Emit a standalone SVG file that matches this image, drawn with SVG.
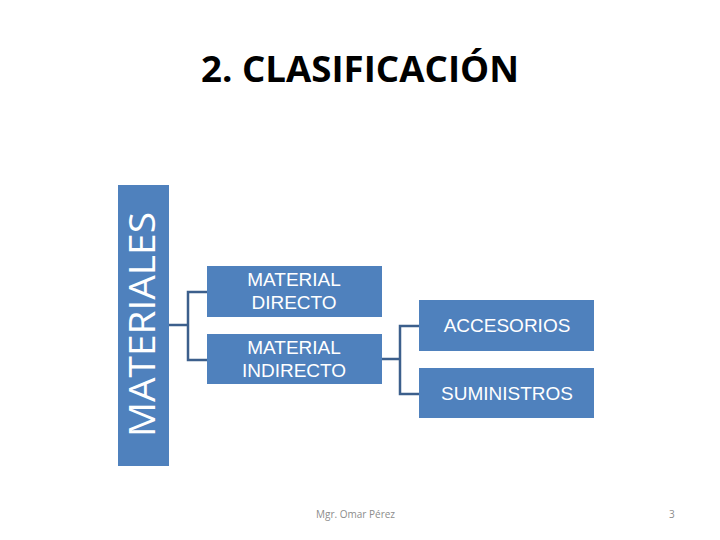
<svg xmlns="http://www.w3.org/2000/svg" width="720" height="540" viewBox="0 0 720 540">
<style>
.box{fill:#4F81BD;}
.t{font-family:"Liberation Sans",Arial,sans-serif;fill:#fff;font-size:19px;text-anchor:middle;}
.v{font-family:"Open Sans","Liberation Sans",sans-serif;fill:#fff;font-size:36px;text-anchor:middle;}
.c{fill:none;stroke:#3C5F8C;stroke-width:2.5;}
.f{font-family:"Open Sans","Liberation Sans",sans-serif;fill:#8c8c8c;font-size:10px;}
</style>
<rect width="720" height="540" fill="#fff"/>
<text x="360" y="82" font-family="'Open Sans','Liberation Sans',sans-serif" font-weight="bold" font-size="35" text-anchor="middle" textLength="318" lengthAdjust="spacingAndGlyphs">2. CLASIFICACIÓN</text>
<g id="connectors">
<path class="c" d="M169 325H188M207 292H188V360H207"/>
<path class="c" d="M382 359H400M419 326H400V394H419"/>
</g>
<g id="materiales">
<rect class="box" x="118" y="185" width="51" height="281"/>
<text class="v" transform="translate(155,324.5) rotate(-90)" textLength="225" lengthAdjust="spacingAndGlyphs">MATERIALES</text>
</g>
<g id="directo">
<rect class="box" x="207" y="266" width="175" height="51"/>
<text class="t" x="294" y="286">MATERIAL</text>
<text class="t" x="294" y="309">DIRECTO</text>
</g>
<g id="indirecto">
<rect class="box" x="207" y="334" width="175" height="50"/>
<text class="t" x="294" y="354">MATERIAL</text>
<text class="t" x="294" y="377">INDIRECTO</text>
</g>
<g id="accesorios">
<rect class="box" x="419" y="300" width="175" height="51"/>
<text class="t" x="507" y="332">ACCESORIOS</text>
</g>
<g id="suministros">
<rect class="box" x="419" y="368" width="175" height="50"/>
<text class="t" x="507" y="400">SUMINISTROS</text>
</g>
<text class="f" x="316" y="518">Mgr. Omar Pérez</text>
<text class="f" x="669" y="518">3</text>
</svg>
